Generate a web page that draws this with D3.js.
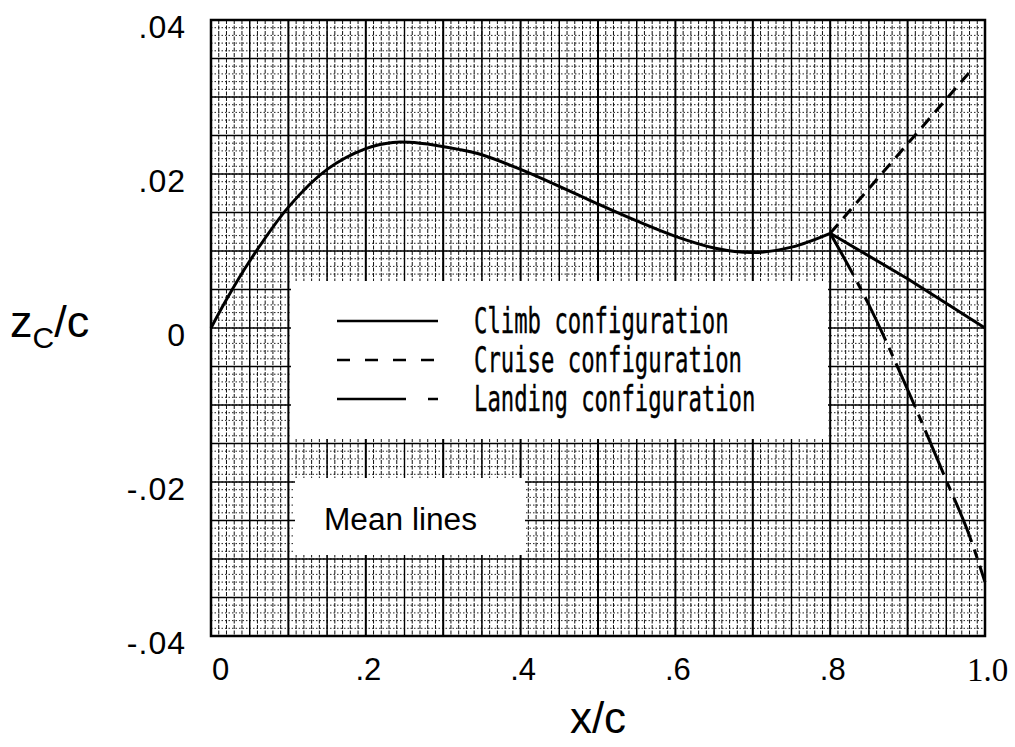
<!DOCTYPE html>
<html lang="en">

<head>
    <meta charset="UTF-8">
    <title>Mean lines</title>
    <script src="https://d3js.org/d3.v7.min.js"></script>
    <style>
        body { margin: 0; background: #fff; }
    </style>
</head>

<body>
    <svg id="chart" width="1015" height="747"></svg>

    <script>
        // Values
        const climbX = [0, 0.02, 0.05, 0.1, 0.15, 0.2, 0.235, 0.27, 0.32, 0.35, 0.4, 0.45, 0.5, 0.55, 0.6, 0.65, 0.7, 0.75, 0.8, 0.9, 1.0];
        const climbZ = [0, 0.0037, 0.0087, 0.0157, 0.0206, 0.0233, 0.0241, 0.0240, 0.0232, 0.0225, 0.0206, 0.0184, 0.0161, 0.0139, 0.0119, 0.0104, 0.0098, 0.0105, 0.0123, 0.0064, 0.0];
        const cruiseX = [0.8, 0.985];
        const cruiseZ = [0.0123, 0.0338];
        const landingX = [0.8, 0.85, 0.9, 0.95, 0.98, 1.0];
        const landingZ = [0.0123, 0.003, -0.008, -0.0198, -0.027, -0.033];

        const xTicks = [0, 0.2, 0.4, 0.6, 0.8, 1.0];
        const xTickLabels = ["0", ".2", ".4", ".6", ".8", "1.0"];
        const yTicks = [0.04, 0.02, 0, -0.02, -0.04];
        const yTickLabels = [".04", ".02", "0", "-.02", "-.04"];

        const legendNames = ["Climb configuration", "Cruise configuration", "Landing configuration"];

        // Layout
        const margin = { top: 20, left: 211 };
        const width = 774;
        const height = 616;

        const svg = d3.select("#chart");
        const g = svg.append("g")
            .attr("transform", `translate(${margin.left},${margin.top})`);

        const xScale = d3.scaleLinear().domain([0, 1]).range([0, width]);
        const yScale = d3.scaleLinear().domain([-0.04, 0.04]).range([height, 0]);

        // Graph paper: fine lines every 0.01 / 0.001, heavier every 0.05 / 0.005
        const grid = g.append("g");
        const fineX = d3.range(0, 101).map(i => i / 100);
        const fineY = d3.range(-40, 41).map(i => i / 1000);

        grid.selectAll(".fy").data(fineY).join("line")
            .attr("x1", 0).attr("x2", width)
            .attr("y1", d => yScale(d)).attr("y2", d => yScale(d))
            .attr("stroke", "#222").attr("stroke-width", 1)
            .attr("stroke-dasharray", "1.5,2");

        grid.selectAll(".fx").data(fineX).join("line")
            .attr("y1", 0).attr("y2", height)
            .attr("x1", d => xScale(d)).attr("x2", d => xScale(d))
            .attr("stroke", "#111").attr("stroke-width", 1)
            .attr("stroke-dasharray", "4,1.5");

        grid.selectAll(".my").data(fineY.filter((d, i) => i % 5 === 0)).join("line")
            .attr("x1", 0).attr("x2", width)
            .attr("y1", d => yScale(d)).attr("y2", d => yScale(d))
            .attr("stroke", "#000").attr("stroke-width", 1.3);

        grid.selectAll(".mx").data(fineX.filter((d, i) => i % 5 === 0)).join("line")
            .attr("y1", 0).attr("y2", height)
            .attr("x1", d => xScale(d)).attr("x2", d => xScale(d))
            .attr("stroke", "#000").attr("stroke-width", d => Math.round(d * 100) % 10 === 0 ? 2 : 1.4);

        // Frame
        g.append("rect")
            .attr("width", width).attr("height", height)
            .attr("fill", "none").attr("stroke", "#000").attr("stroke-width", 2.5);

        // White boxes for the legend and the note
        g.append("rect")
            .attr("x", 80).attr("y", 261).attr("width", 537).attr("height", 158)
            .attr("fill", "#fff");
        g.append("rect")
            .attr("x", 84).attr("y", 458).attr("width", 230).attr("height", 77)
            .attr("fill", "#fff");

        // Curves
        const line = d3.line()
            .x(d => xScale(d[0]))
            .y(d => yScale(d[1]));

        const climb = climbX.map((x, i) => [x, climbZ[i]]);
        const cruise = cruiseX.map((x, i) => [x, cruiseZ[i]]);
        const landing = landingX.map((x, i) => [x, landingZ[i]]);

        g.append("path")
            .datum(climb.filter(d => d[0] <= 0.8))
            .attr("fill", "none").attr("stroke", "#000").attr("stroke-width", 3)
            .attr("d", line.curve(d3.curveCatmullRom.alpha(0.5)));
        g.append("path")
            .datum(climb.filter(d => d[0] >= 0.8))
            .attr("fill", "none").attr("stroke", "#000").attr("stroke-width", 3)
            .attr("d", line.curve(d3.curveLinear));

        g.append("path")
            .datum(cruise)
            .attr("fill", "none").attr("stroke", "#000").attr("stroke-width", 3)
            .attr("stroke-dasharray", "12,8")
            .attr("d", line.curve(d3.curveLinear));

        g.append("path")
            .datum(landing)
            .attr("fill", "none").attr("stroke", "#000").attr("stroke-width", 3)
            .attr("stroke-dasharray", "48,8,9,8")
            .attr("d", line.curve(d3.curveMonotoneX));

        // Axes (labels only, as on the chart)
        const xAxis = g.append("g")
            .attr("transform", `translate(0,${height})`)
            .call(d3.axisBottom(xScale).tickValues(xTicks)
                .tickFormat((d, i) => xTickLabels[i]).tickSize(0).tickPadding(22));
        xAxis.select(".domain").remove();
        xAxis.selectAll("text")
            .attr("font-family", "Liberation Sans, Arial, sans-serif")
            .attr("font-size", 31)
            .attr("fill", "#000")
            .attr("dx", (d, i) => i === 0 ? 9 : 2);
        xAxis.selectAll("text").filter((d, i) => i === xTicks.length - 1)
            .attr("font-family", "Liberation Serif, Times New Roman, serif")
            .attr("font-size", 33);

        const yAxis = g.append("g")
            .call(d3.axisLeft(yScale).tickValues(yTicks)
                .tickFormat((d, i) => yTickLabels[i]).tickSize(0).tickPadding(25));
        yAxis.select(".domain").remove();
        yAxis.selectAll("text")
            .attr("font-family", "Liberation Sans, Arial, sans-serif")
            .attr("font-size", 32)
            .attr("fill", "#000")
            .attr("letter-spacing", 1)
            .attr("dy", "0.55em");

        // Axis titles
        svg.append("text")
            .attr("x", 598).attr("y", 733)
            .attr("text-anchor", "middle")
            .attr("font-family", "Liberation Sans, Arial, sans-serif")
            .attr("font-size", 44)
            .text("x/c");

        const zt = svg.append("text")
            .attr("x", 10).attr("y", 337)
            .attr("font-family", "Liberation Sans, Arial, sans-serif")
            .attr("font-size", 45);
        zt.append("tspan").text("z");
        zt.append("tspan").attr("font-size", 30).attr("dy", 11).text("C");
        zt.append("tspan").attr("dy", -11).text("/c");

        // Legend
        const legendDash = [null, "13,15", "69,22,11"];
        const legend = svg.append("g");
        legendNames.forEach((name, i) => {
            const y = 321 + i * 39;
            legend.append("line")
                .attr("x1", 337).attr("x2", 438)
                .attr("y1", y).attr("y2", y)
                .attr("stroke", "#000").attr("stroke-width", 2.5)
                .attr("stroke-dasharray", legendDash[i]);
            legend.append("text")
                .attr("x", 474).attr("y", y + 12)
                .attr("font-family", "DejaVu Sans Mono, monospace")
                .attr("font-size", 36)
                .attr("stroke", "#000").attr("stroke-width", 0.4)
                .attr("textLength", name.length * 13.4)
                .attr("lengthAdjust", "spacingAndGlyphs")
                .text(name);
        });

        svg.append("text")
            .attr("x", 324).attr("y", 530)
            .attr("font-family", "Liberation Sans, Arial, sans-serif")
            .attr("font-size", 31)
            .attr("textLength", 153)
            .attr("lengthAdjust", "spacingAndGlyphs")
            .text("Mean lines");
    </script>
</body>

</html>
